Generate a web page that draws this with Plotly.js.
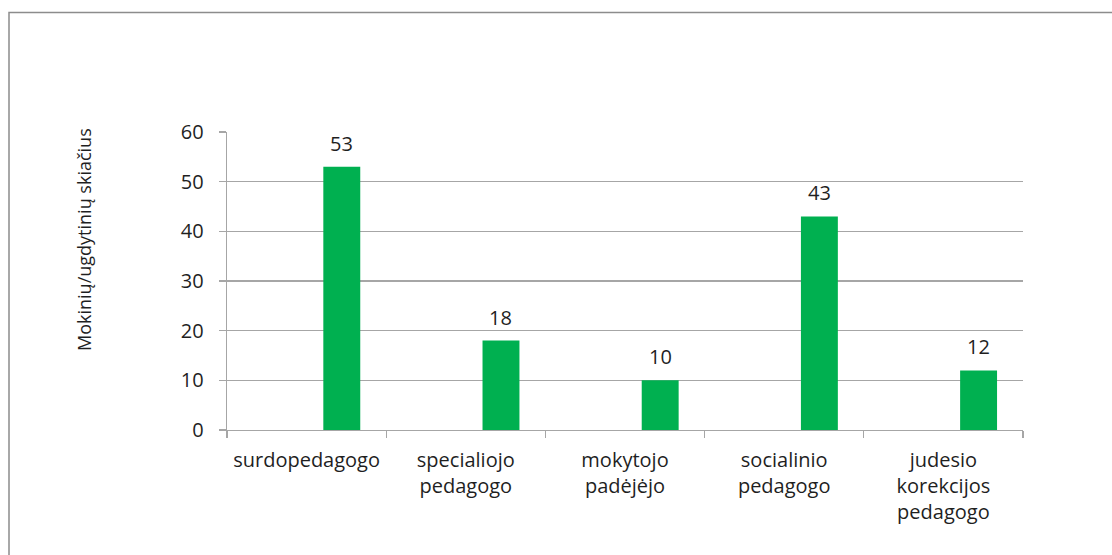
<!DOCTYPE html>
<html>
<head>
<meta charset="utf-8">
<script src="https://cdn.plot.ly/plotly-3.0.1.min.js"></script>
<style>
  html, body { margin: 0; padding: 0; background: #fff; }
  #chart { width: 1112px; height: 555px; }
</style>
</head>
<body>
<div id="chart"></div>
<script>
const categories = [
  "surdopedagogo",
  "specialiojo<br>pedagogo",
  "mokytojo<br>padėjėjo",
  "socialinio<br>pedagogo",
  "judesio<br>korekcijos<br>pedagogo"
];
const values = [53, 18, 10, 43, 12];
const yTitle = "Mokinių/ugdytinių skiačius";
const yTickVals = [0, 10, 20, 30, 40, 50, 60];

const FONT = "'Open Sans', 'Noto Sans', sans-serif";
const TEXT = "#1f1f1f";
const GRID = "#a6a6a6";

// plot area in pixels: left 227, right 1023, top 132, bottom 430
const L = 227, R = 1023, T = 132, B = 430;
const pw = R - L, ph = B - T;
const px = v => (v - L) / pw;
const py = v => (B - v) / ph;

const BAR_OFFSET = 0.105, BAR_WIDTH = 0.232;
const catPx = pw / categories.length;

const trace = {
  type: "bar",
  x: categories,
  y: values,
  marker: { color: "#00B050" },
  offset: BAR_OFFSET,
  width: BAR_WIDTH,
  hoverinfo: "skip"
};

const valueLabels = categories.map((c, i) => ({
  text: String(values[i]),
  x: c, y: values[i],
  xref: "x", yref: "y",
  xanchor: "center", yanchor: "bottom",
  xshift: (BAR_OFFSET + BAR_WIDTH / 2) * catPx,
  yshift: 8,
  showarrow: false,
  font: { family: FONT, size: 20, color: TEXT }
}));

const layout = {
  width: 1112,
  height: 555,
  margin: { l: L, r: 1112 - R, t: T, b: 555 - B, pad: 0 },
  paper_bgcolor: "#ffffff",
  plot_bgcolor: "#ffffff",
  showlegend: false,
  font: { family: FONT, color: TEXT },
  xaxis: {
    type: "category",
    tickson: "boundaries",
    ticks: "outside",
    ticklen: 7,
    tickcolor: GRID,
    tickwidth: 1.3,
    showline: true,
    linecolor: GRID,
    linewidth: 1.3,
    showgrid: false,
    zeroline: false,
    ticklabelstandoff: 12,
    tickfont: { family: FONT, size: 20, color: TEXT },
    range: [-0.5, 4.5],
    fixedrange: true
  },
  yaxis: {
    range: [0, 60],
    tickvals: yTickVals,
    ticks: "outside",
    ticklen: 7,
    tickcolor: GRID,
    tickwidth: 1.3,
    showline: true,
    linecolor: GRID,
    linewidth: 1.3,
    showgrid: true,
    gridcolor: GRID,
    gridwidth: 1.3,
    zeroline: false,
    ticklabelstandoff: 11,
    tickfont: { family: FONT, size: 20, color: TEXT },
    fixedrange: true
  },
  annotations: valueLabels.concat([{
    text: yTitle,
    xref: "paper", yref: "paper",
    x: px(84), y: py(240),
    xanchor: "center", yanchor: "middle",
    textangle: -90,
    showarrow: false,
    font: { family: FONT, size: 18, color: TEXT }
  }]),
  shapes: [{
    type: "rect",
    xref: "paper", yref: "paper",
    x0: px(9), x1: px(1130),
    y0: py(580), y1: py(12.5),
    line: { color: "#8c8c8c", width: 1.5 },
    fillcolor: "rgba(0,0,0,0)",
    layer: "below"
  }]
};

Plotly.newPlot("chart", [trace], layout, { displayModeBar: false, staticPlot: true });
</script>
</body>
</html>
